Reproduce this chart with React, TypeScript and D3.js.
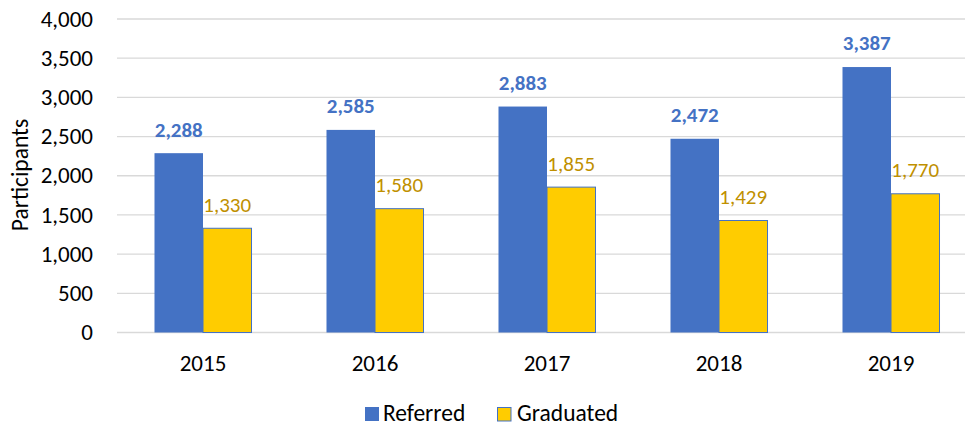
import React from "react";
import * as d3 from "d3";

const categories = ["2015", "2016", "2017", "2018", "2019"];
const referred = [2288, 2585, 2883, 2472, 3387];
const graduated = [1330, 1580, 1855, 1429, 1770];
const yTicks = [0, 500, 1000, 1500, 2000, 2500, 3000, 3500, 4000];
const seriesNames = ["Referred", "Graduated"];

const W = 965;
const H = 423;
const FONT = "Carlito, Calibri, Lato, sans-serif";
const BLUE = "#4472C4";
const YELLOW = "#FFCC00";
const GOLD = "#BF9000";

export default function App() {
  const left = 117;
  const right = 977;
  const top = 19;
  const bottom = 332.5;

  const x0 = d3.scaleBand<string>().domain(categories).range([left, right]).paddingInner(0.436).paddingOuter(0.218);
  const x1 = d3.scaleBand<string>().domain(seriesNames).range([0, x0.bandwidth()]);
  const y = d3.scaleLinear().domain([0, 4000]).range([bottom, top]);
  const fmt = d3.format(",");

  const series = [
    { name: "Referred", values: referred, fill: BLUE, labelColor: BLUE, bold: true },
    { name: "Graduated", values: graduated, fill: YELLOW, labelColor: GOLD, bold: false },
  ];

  return (
    <svg width={W} height={H} style={{ position: "absolute", left: 0, top: 0 }} fontFamily={FONT}>
      <rect width={W} height={H} fill="#fff" />
      {yTicks.map((t) => (
        <g key={t}>
          <line x1={left} x2={right} y1={y(t)} y2={y(t)} stroke="#D9D9D9" strokeWidth={1.3} />
          <text x={93} y={y(t)} dy="0.33em" textAnchor="end" fontSize={23} fill="#000">
            {fmt(t)}
          </text>
        </g>
      ))}
      <text transform={`translate(28,${175}) rotate(-90)`} textAnchor="middle" fontSize={23.5} fill="#000">
        Participants
      </text>
      {series.map((s) =>
        categories.map((c, i) => {
          const bx = (x0(c) ?? 0) + (x1(s.name) ?? 0);
          const bw = x1.bandwidth();
          const v = s.values[i];
          return (
            <g key={s.name + c}>
              <rect
                x={bx}
                y={y(v)}
                width={bw}
                height={y(0) - y(v)}
                fill={s.fill}
                stroke={s.name === "Graduated" ? BLUE : "none"}
                strokeWidth={s.name === "Graduated" ? 1 : 0}
              />
              <text
                x={bx + bw / 2}
                y={y(v) - 16.6}
                textAnchor="middle"
                fontSize={21}
                fontWeight={s.bold ? "bold" : "normal"}
                fill={s.labelColor}
              >
                {fmt(v)}
              </text>
            </g>
          );
        })
      )}
      {categories.map((c) => (
        <text key={c} x={(x0(c) ?? 0) + x0.bandwidth() / 2} y={371} textAnchor="middle" fontSize={23} fill="#000">
          {c}
        </text>
      ))}
      <g>
        <rect x={365} y={407} width={14} height={14} fill={BLUE} />
        <text x={383} y={420.5} fontSize={23.5} fill="#000">Referred</text>
        <rect x={497.5} y={407.5} width={13.5} height={13.5} fill={YELLOW} stroke={BLUE} strokeWidth={1} />
        <text x={517} y={420.5} fontSize={23.5} fill="#000">Graduated</text>
      </g>
    </svg>
  );
}
